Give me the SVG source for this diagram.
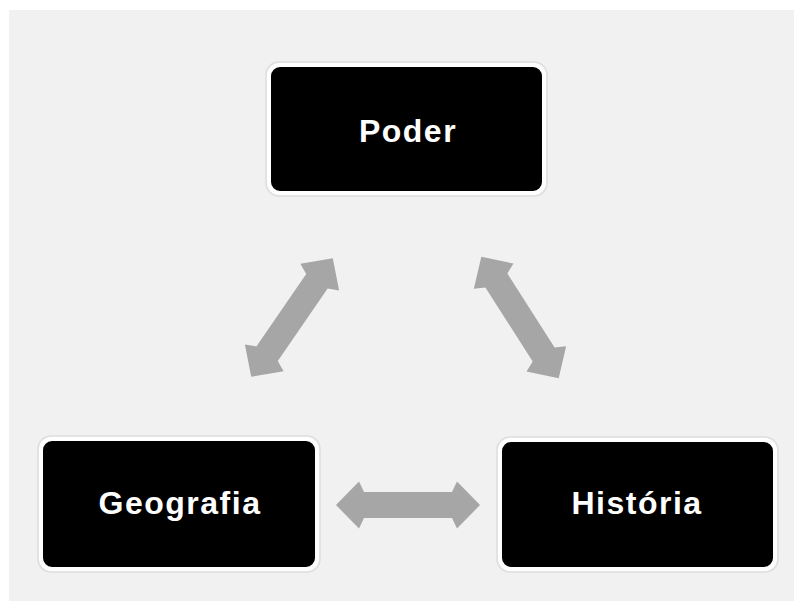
<svg xmlns="http://www.w3.org/2000/svg" width="794" height="601" viewBox="0 0 794 601">
<defs>
<style>
.box{fill:#000;stroke:#fff;stroke-width:4}
.halo{fill:none;stroke:#dedede;stroke-width:1.5}
.lbl{font-family:"Liberation Sans",Arial,Helvetica,sans-serif;font-weight:bold;font-size:32px;letter-spacing:1.5px;fill:#fff;text-anchor:middle}
.arr{fill:#a6a6a6}
</style>
<path id="dbl" d="M-72,0 L-49,-23.5 L-44,-13 L44,-13 L49,-23.5 L72,0 L49,23.5 L44,13 L-44,13 L-49,23.5 Z"/>
</defs>
<rect x="0" y="0" width="794" height="601" fill="#fff"/>
<rect x="9" y="10" width="785" height="591" fill="#f1f1f1"/>
<g id="connectors" class="arr">
<use href="#dbl" transform="translate(292,317.5) rotate(-55.5)"/>
<use href="#dbl" transform="translate(520,317.5) rotate(57.5)"/>
<use href="#dbl" transform="translate(408,505)"/>
</g>
<g id="poder">
<rect class="halo" x="266" y="62" width="281" height="134" rx="13"/>
<rect class="box" x="269" y="65" width="275" height="128" rx="11"/>
<text class="lbl" x="408" y="142">Poder</text>
</g>
<g id="geografia">
<rect class="halo" x="38" y="436" width="282" height="136" rx="13"/>
<rect class="box" x="41" y="439" width="276" height="130" rx="11"/>
<text class="lbl" x="180" y="514">Geografia</text>
</g>
<g id="historia">
<rect class="halo" x="497" y="437" width="281" height="135" rx="13"/>
<rect class="box" x="500" y="440" width="275" height="129" rx="11"/>
<text class="lbl" x="637" y="514">História</text>
</g>
</svg>
